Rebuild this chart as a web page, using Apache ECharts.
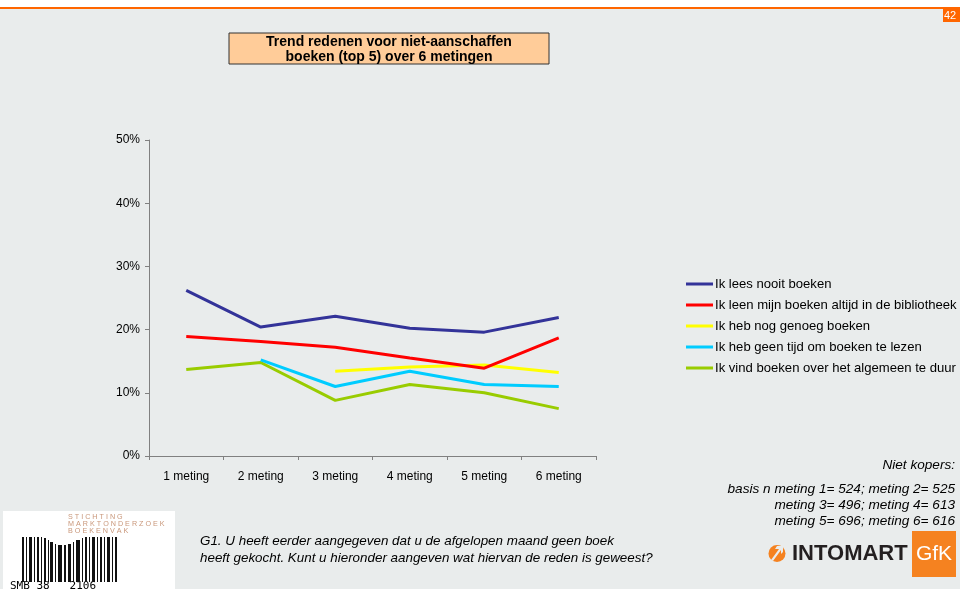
<!DOCTYPE html>
<html>
<head>
<meta charset="utf-8">
<script src="https://cdn.jsdelivr.net/npm/echarts@6/dist/echarts.min.js"></script>
<style>
  html, body { margin: 0; padding: 0; background: #ffffff; }
  #chart { width: 960px; height: 589px; }
</style>
</head>
<body>
<div id="chart"></div>
<script>
// Measurement rounds on the category axis
const categories = ['1 meting', '2 meting', '3 meting', '4 meting', '5 meting', '6 meting'];

// Share of non-buyers (%) per reason, per round ('-' = not asked)
const leesNooit     = [26.2, 20.4, 22.1, 20.2, 19.6, 21.9];
const bibliotheek   = [18.9, 18.1, 17.2, 15.5, 13.9, 18.7];
const genoegBoeken  = ['-', '-', 13.4, 14.1, 14.4, 13.2];
const geenTijd      = ['-', 15.2, 11.0, 13.4, 11.3, 11.0];
const teDuur        = [13.7, 14.8, 8.8, 11.3, 10.0, 7.5];

const seriesNames = [
  'Ik lees nooit boeken',
  'Ik leen mijn boeken altijd in de bibliotheek',
  'Ik heb nog genoeg boeken',
  'Ik heb geen tijd om boeken te lezen',
  'Ik vind boeken over het algemeen te duur'
];
const seriesData = [leesNooit, bibliotheek, genoegBoeken, geenTijd, teDuur];
const seriesColors = ['#333399', '#FF0000', '#FFFF00', '#00CCFF', '#99CC00'];

const yTicks = [0, 10, 20, 30, 40, 50];

const FONT = 'Liberation Sans, Arial, sans-serif';
const BG = '#E9ECEC';

// Barcode strokes for the foundation logo: [x, width, top]
const barcode = [
  [22,2,537],[26,1,537],[29,3,537],[34,1,537],[37,2,537],[41,1,537],[44,2,538],
  [48,1,540],[50,3,542],[55,1,544],[58,4,545],[64,2,545],[68,3,544],[73,1,542],
  [76,4,540],[82,1,538],[85,2,537],[89,1,537],[92,3,537],[97,1,537],[100,2,537],
  [104,1,537],[107,3,537],[112,1,537],[115,2,537]
];

const chart = echarts.init(document.getElementById('chart'), null, { renderer: 'canvas' });

const graphics = [
  // page background below the header strip
  { type: 'rect', shape: { x: 0, y: 8, width: 960, height: 581 }, style: { fill: BG }, silent: true, z: -10 },
  { type: 'rect', shape: { x: 0, y: 7, width: 960, height: 2 }, style: { fill: '#FF6600' }, silent: true },
  // page number tag
  { type: 'rect', shape: { x: 943, y: 9, width: 17, height: 13 }, style: { fill: '#FF6600' }, silent: true },
  { type: 'text', style: { x: 944, y: 15.5, text: '42', fill: '#ffffff', font: '11px ' + FONT, textVerticalAlign: 'middle' }, silent: true },
  // title box
  { type: 'rect', shape: { x: 229, y: 33, width: 320, height: 31 }, style: { fill: '#FFCC99', stroke: '#333333', lineWidth: 1 }, silent: true },
  { type: 'text', style: { x: 389, y: 42, text: 'Trend redenen voor niet-aanschaffen', fill: '#000', font: 'bold 14px ' + FONT, textAlign: 'center', textVerticalAlign: 'middle' }, silent: true },
  { type: 'text', style: { x: 389, y: 57.5, text: 'boeken (top 5) over 6 metingen', fill: '#000', font: 'bold 14px ' + FONT, textAlign: 'center', textVerticalAlign: 'middle' }, silent: true },
  // base notes
  { type: 'text', style: { x: 955, y: 465, text: 'Niet kopers:', fill: '#000', font: 'italic 13.6px ' + FONT, textAlign: 'right', textVerticalAlign: 'middle' }, silent: true },
  { type: 'text', style: { x: 955, y: 489, text: 'basis n meting 1= 524; meting 2= 525', fill: '#000', font: 'italic 13.6px ' + FONT, textAlign: 'right', textVerticalAlign: 'middle' }, silent: true },
  { type: 'text', style: { x: 955, y: 505, text: 'meting 3= 496; meting 4= 613', fill: '#000', font: 'italic 13.6px ' + FONT, textAlign: 'right', textVerticalAlign: 'middle' }, silent: true },
  { type: 'text', style: { x: 955, y: 521, text: 'meting 5= 696; meting 6= 616', fill: '#000', font: 'italic 13.6px ' + FONT, textAlign: 'right', textVerticalAlign: 'middle' }, silent: true },
  // question text
  { type: 'text', style: { x: 200, y: 541, text: 'G1. U heeft eerder aangegeven dat u de afgelopen maand geen boek', fill: '#000', font: 'italic 13.4px ' + FONT, textVerticalAlign: 'middle' }, silent: true },
  { type: 'text', style: { x: 200, y: 558, text: 'heeft gekocht. Kunt u hieronder aangeven wat hiervan de reden is geweest?', fill: '#000', font: 'italic 13.4px ' + FONT, textVerticalAlign: 'middle' }, silent: true },
  // INTOMART GfK logo
  { type: 'circle', shape: { cx: 777, cy: 553.5, r: 8.5 }, style: { fill: '#F58220' }, silent: true },
  { type: 'polygon', shape: { points: [[771, 560], [779, 549], [775, 549], [777, 546], [783, 546], [783, 552], [781, 554], [781, 550], [773, 561]] }, style: { fill: BG }, silent: true },
  { type: 'text', style: { x: 792, y: 554, text: 'INTOMART', fill: '#231F20', font: 'bold 22px ' + FONT, textVerticalAlign: 'middle' }, silent: true },
  { type: 'rect', shape: { x: 912, y: 531, width: 44, height: 46 }, style: { fill: '#F58220' }, silent: true },
  { type: 'text', style: { x: 934, y: 554, text: 'GfK', fill: '#ffffff', font: '21px ' + FONT, textAlign: 'center', textVerticalAlign: 'middle' }, silent: true },
  // foundation logo (bottom left)
  { type: 'rect', shape: { x: 3, y: 511, width: 172, height: 78 }, style: { fill: '#ffffff' }, silent: true },
  { type: 'text', style: { x: 68, y: 517, text: 'S T I C H T I N G', fill: '#C9977A', font: '7.2px ' + FONT, textVerticalAlign: 'middle' }, silent: true },
  { type: 'text', style: { x: 68, y: 524, text: 'M A R K T O N D E R Z O E K', fill: '#C9977A', font: '7.2px ' + FONT, textVerticalAlign: 'middle' }, silent: true },
  { type: 'text', style: { x: 68, y: 531, text: 'B O E K E N V A K', fill: '#C9977A', font: '7.2px ' + FONT, textVerticalAlign: 'middle' }, silent: true },
  { type: 'text', style: { x: 10, y: 592, text: 'SMB 38   2106', fill: '#000', font: '11px DejaVu Sans Mono, monospace', textVerticalAlign: 'bottom' }, silent: true }
];
barcode.forEach(function (b) {
  graphics.push({ type: 'rect', shape: { x: b[0], y: b[2], width: b[1], height: 582 - b[2] }, style: { fill: '#111' }, silent: true });
});

const option = {
  backgroundColor: 'transparent',
  animation: false,
  textStyle: { fontFamily: FONT },
  grid: { left: 149, right: 364, top: 140, bottom: 133, containLabel: false },
  legend: {
    orient: 'vertical',
    left: 686,
    top: 277,
    padding: 0,
    itemWidth: 27,
    itemHeight: 3,
    itemGap: 7,
    icon: 'rect',
    data: seriesNames,
    textStyle: { fontSize: 13.1, color: '#000', fontFamily: FONT, lineHeight: 14, padding: [0, 0, 0, -3] }
  },
  xAxis: {
    type: 'category',
    data: categories,
    boundaryGap: true,
    axisLine: { lineStyle: { color: '#808080', width: 1 } },
    axisTick: { show: true, length: 4, lineStyle: { color: '#808080' } },
    axisLabel: { color: '#000', fontSize: 12, margin: 15 },
    splitLine: { show: false }
  },
  yAxis: {
    type: 'value',
    min: yTicks[0],
    max: yTicks[yTicks.length - 1],
    interval: 10,
    axisLine: { show: true, lineStyle: { color: '#808080', width: 1 } },
    axisTick: { show: true, length: 4, lineStyle: { color: '#808080' } },
    axisLabel: { color: '#000', fontSize: 12, margin: 9, formatter: '{value}%' },
    splitLine: { show: false }
  },
  series: seriesNames.map(function (name, i) {
    return {
      name: name,
      type: 'line',
      data: seriesData[i],
      color: seriesColors[i],
      lineStyle: { width: 3, color: seriesColors[i] },
      showSymbol: false,
      symbol: 'none',
      connectNulls: false,
      z: 10 - i
    };
  }),
  graphic: graphics
};

chart.setOption(option);
</script>
</body>
</html>
